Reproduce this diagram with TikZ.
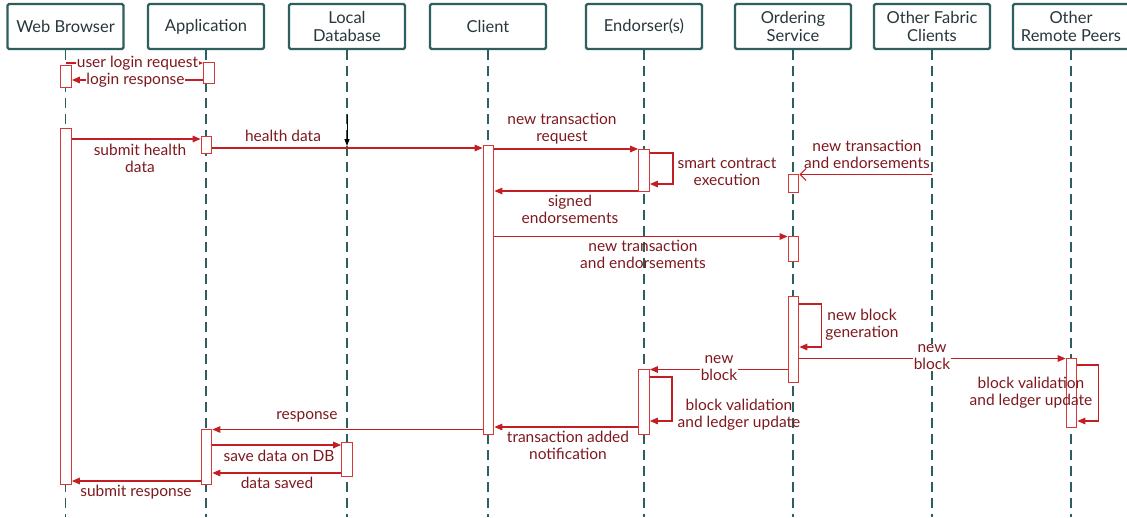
\documentclass[tikz,border=0pt]{standalone}
\usepackage{fontspec}
\setmainfont{Lato}
\usetikzlibrary{arrows.meta}
\definecolor{teal1}{RGB}{45,95,95}
\definecolor{headtxt}{RGB}{40,55,60}
\definecolor{msgred}{RGB}{195,30,35}
\definecolor{actred}{RGB}{215,55,55}
\definecolor{lbltxt}{RGB}{125,25,30}
\begin{document}
\begin{tikzpicture}[x=1pt,y=-1pt,
  header/.style={draw=teal1, line width=2.2pt, rounded corners=1.5pt, minimum width=116pt, minimum height=45pt, text=headtxt, font=\fontsize{16.5}{18}\selectfont, align=center, inner sep=0pt, fill=white},
  life/.style={draw=teal1, line width=1.2pt, dash pattern=on 10pt off 6pt},
  act/.style={draw=actred, line width=1.2pt, fill=white, minimum width=10.5pt, inner sep=0pt, anchor=north},
  msg/.style={draw=msgred, line width=1.4pt, -{Triangle[length=8pt,width=6.5pt]}},
  openmsg/.style={draw=msgred, line width=1.2pt, -{Straight Barb[length=6pt,width=12pt,line width=1pt]}},
  lbl/.style={text=lbltxt, font=\fontsize{15.5}{17}\selectfont, align=center, inner sep=1pt},
  wlbl/.style={lbl, fill=white, inner sep=0.5pt},
]
\useasboundingbox (0,0) rectangle (1127,517);
% headers
\node[header] (hWB) at (65.5,26.5) {Web Browser};
\node[header] (hApp) at (206,26.5) {Application};
\node[header] (hLDB) at (347,26.5) {Local\\Database};
\node[header] (hCl) at (488,26.5) {Client};
\node[header] (hEn) at (644,26.5) {Endorser(s)};
\node[header] (hOS) at (793,26.5) {Ordering\\Service};
\node[header] (hOF) at (932,26.5) {Other Fabric\\Clients};
\node[header] (hRP) at (1071,26.5) {Other\\Remote Peers};
% lifelines
\foreach \h in {hWB,hApp,hLDB,hCl,hEn,hOS,hOF,hRP}{
  \coordinate (\h-end) at (\h.south |- 0,517);
  \draw[life] (\h.south) -- (\h-end);
}
% activations
\node[act, minimum height=22pt] (wb1) at (66,65) {};
\node[act, minimum height=21pt] (app1) at (209,62) {};
\node[act, minimum height=356pt] (wb2) at (66,128) {};
\node[act, minimum height=17pt] (app2) at (206.5,136) {};
\node[act, minimum height=289pt] (cl1) at (488.5,145) {};
\node[act, minimum height=42pt] (en1) at (644,149) {};
\node[act, minimum height=18pt] (os1) at (793.5,174) {};
\node[act, minimum height=25pt] (os2) at (793.5,236) {};
\node[act, minimum height=86pt] (os3) at (793.5,296) {};
\node[act, minimum height=69pt] (rp1) at (1071.5,358) {};
\node[act, minimum height=65pt] (en2) at (644,369) {};
\node[act, minimum height=55pt] (app3) at (206.5,429) {};
\node[act, minimum height=34pt] (ldb1) at (347,442) {};
% messages
\draw[msg] (hWB.south |- 0,63) -- (app1.west |- 0,63);
\node[wlbl] (l1) at (137.5,63) {user login request};
\draw[msg] (app1.west |- 0,80) -- (wb1.east |- 0,80);
\node[wlbl] (l2) at (135.5,80) {login response};
\draw[msg] (wb2.east |- 0,139) -- (app2.west |- 0,139);
\node[lbl] (l3) at (140,158) {submit health\\data};
\draw[msg] (app2.east |- 0,148) -- (cl1.west |- 0,148);
\node[lbl] (l4) at (283,136) {health data};
\coordinate (bk) at (347,115);
\draw[black, line width=0.9pt, -{Triangle[length=7pt,width=5pt]}] (bk) -- (hLDB.south |- 0,146);
\draw[msg] (cl1.east |- 0,149) -- (en1.west |- 0,149);
\node[lbl] (l5) at (562,129) {new transaction\\request};
\draw[msg] (en1.east |- 0,153) -- ++(23,0) |- (en1.east |- 0,184);
\node[lbl] (l6) at (727,172) {smart contract\\execution};
\draw[msg] (en1.west |- 0,191) -- (cl1.east |- 0,191);
\node[lbl] (l7) at (570,209.5) {signed\\endorsements};
\draw[msg] (cl1.east |- 0,236.5) -- (os2.west |- 0,236.5);
\node[lbl] (l8) at (643,254.5) {new transaction\\and endorsements};
\draw[openmsg] (hOF.south |- 0,174.5) -- (os1.east |- 0,174.5);
\node[lbl] (l9) at (867,154) {new transaction\\and endorsements};
\draw[msg] (os3.east |- 0,304) -- ++(22,0) |- (os3.east |- 0,347);
\node[lbl] (l10) at (862,324.5) {new block\\generation};
\draw[msg] (os3.east |- 0,358.5) -- (rp1.west |- 0,358.5);
\node[wlbl] (l11) at (932,357.5) {new\\block};
\draw[msg] (rp1.east |- 0,365) -- ++(21,0) |- (rp1.east |- 0,421);
\node[lbl] (l12) at (1031,392.5) {block validation\\and ledger update};
\draw[msg] (os3.west |- 0,369.5) -- (en2.east |- 0,369.5);
\node[wlbl] (l13) at (719,368.5) {new\\block};
\draw[msg] (en2.east |- 0,377) -- ++(22,0) |- (en2.east |- 0,421);
\node[lbl] (l14) at (739,414.5) {block validation\\and ledger update};
\draw[msg] (en2.west |- 0,427) -- (cl1.east |- 0,427);
\node[lbl] (l15) at (568,445.5) {transaction added\\notification};
\draw[msg] (cl1.west |- 0,429.5) -- (app3.east |- 0,429.5);
\node[lbl] (l16) at (307,417) {response};
\draw[msg] (app3.east |- 0,445) -- (ldb1.west |- 0,445);
\node[lbl] (l17) at (279,456) {save data on DB};
\draw[msg] (ldb1.west |- 0,473) -- (app3.east |- 0,473);
\node[lbl] (l18) at (277,483) {data saved};
\draw[msg] (app3.west |- 0,481) -- (wb2.east |- 0,481);
\node[lbl] (l19) at (136,492) {submit response};
\end{tikzpicture}
\end{document}
